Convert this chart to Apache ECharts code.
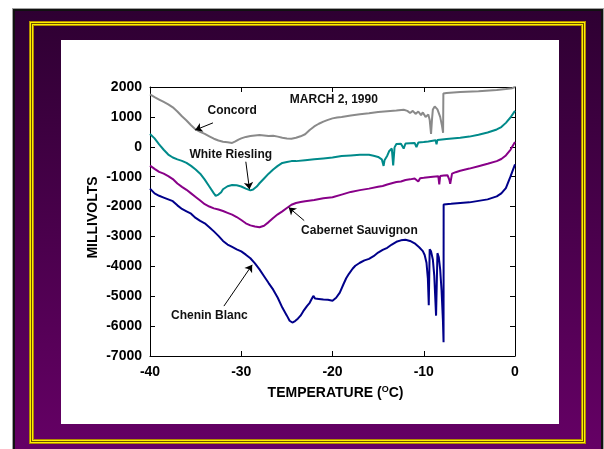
<!DOCTYPE html>
<html>
<head>
<meta charset="utf-8">
<script src="https://cdn.jsdelivr.net/npm/echarts@6/dist/echarts.min.js"></script>
<style>
  html, body { margin: 0; padding: 0; background: #ffffff; }
  #frame {
    position: absolute; left: 12px; top: 8px; width: 592px; height: 450px;
    box-sizing: border-box; border: 1px solid #a0a0a0;
    background: linear-gradient(to bottom, #2e0032 0%, #660066 100%);
    box-shadow: inset 0 0 0 2px #111111;
  }
  #gold {
    position: absolute; left: 29px; top: 21px; width: 557px; height: 423px;
    box-sizing: border-box; border: 1px solid #b08c00;
    box-shadow: inset 0 0 0 1px #ffee00, inset 0 0 0 2px #6a4e00,
                inset 0 0 0 3px #ffee00, inset 0 0 0 4px #b08c00;
  }
  #panel {
    position: absolute; left: 61px; top: 40px; width: 498px; height: 384px;
    background: #ffffff;
  }
  #chart { position: absolute; left: 0; top: 0; width: 604px; height: 449px; }
</style>
</head>
<body>
<div id="frame"></div>
<div id="gold"></div>
<div id="panel"></div>
<div id="chart"></div>
<script>
// Thermal scan of grape bud tissue, recorded March 2, 1990.
// Each series: [temperature (°C), signal (millivolts)]

const concordData = [
  [-40, 1750], [-39.5, 1660], [-39, 1580], [-38.5, 1500], [-38, 1420], [-37.5, 1320],
  [-37, 1180], [-36.5, 1020], [-36, 880], [-35.5, 720], [-35, 580], [-34.5, 500],
  [-34, 430], [-33.5, 350], [-33, 270], [-32.5, 210], [-32, 170], [-31.5, 150],
  [-31, 130], [-30.7, 170], [-30.3, 240], [-30, 280], [-29.5, 330], [-29, 360],
  [-28.5, 380], [-28, 390], [-27.5, 380], [-27, 360], [-26.5, 370], [-26, 340],
  [-25.5, 300], [-25, 280], [-24.5, 270], [-24, 300], [-23.5, 350], [-23, 420],
  [-22.5, 560], [-22, 680], [-21.5, 770], [-21, 840], [-20.5, 900], [-20, 950],
  [-19.5, 980], [-19, 1000], [-18, 1050], [-17, 1090], [-16, 1120], [-15, 1160],
  [-14, 1190], [-13, 1210], [-12.2, 1240], [-11.8, 1200], [-11.5, 1130], [-11.2, 1200],
  [-10.9, 1100], [-10.6, 1180], [-10.3, 1060], [-10.1, 1150], [-9.8, 1000], [-9.5, 1080],
  [-9.35, 900], [-9.2, 430], [-9.1, 900], [-9.0, 1250], [-8.8, 1350], [-8.5, 1250],
  [-8.2, 1000], [-8.0, 700], [-7.88, 470], [-7.85, 1780], [-7.5, 1800], [-6, 1830],
  [-4, 1860], [-2, 1900], [-1, 1930], [-0.3, 1960], [0, 2000]
];

const rieslingData = [
  [-40, 430], [-39.5, 280], [-39, 80], [-38.5, -100], [-38, -260], [-37.5, -360],
  [-37, -420], [-36.5, -470], [-36, -540], [-35.5, -640], [-35, -760], [-34.5, -900],
  [-34, -1100], [-33.5, -1330], [-33, -1560], [-32.8, -1640], [-32.5, -1600], [-32.2, -1520],
  [-32, -1420], [-31.5, -1320], [-31, -1280], [-30.5, -1290], [-30, -1330], [-29.5, -1400],
  [-29, -1460], [-28.7, -1430], [-28.3, -1330], [-28, -1220], [-27.5, -1060], [-27, -900],
  [-26.5, -760], [-26, -640], [-25.5, -540], [-25, -510], [-24.5, -480], [-24, -480],
  [-23, -450], [-22, -420], [-21, -390], [-20, -360], [-19, -310], [-18, -290],
  [-17, -270], [-16, -270], [-15.5, -300], [-15, -340], [-14.6, -420], [-14.4, -640],
  [-14.3, -450], [-14.0, -300], [-13.8, -150], [-13.5, -60], [-13.35, -620], [-13.2, -20],
  [-13.0, 90], [-12.5, 100], [-12.2, -60], [-12.0, 110], [-11.5, 120], [-11.0, 130],
  [-10.8, -10], [-10.6, 140], [-10, 160], [-9.5, 180], [-8.7, 220], [-8.6, 80],
  [-8.5, 230], [-7.5, 260], [-6, 300], [-5, 340], [-4, 400], [-3, 480],
  [-2, 580], [-1.5, 660], [-1, 800], [-0.5, 980], [0, 1200]
];

const cabernetData = [
  [-40, -630], [-39.5, -740], [-39, -840], [-38.5, -900], [-38, -980], [-37.5, -1080],
  [-37, -1230], [-36.5, -1340], [-36, -1440], [-35.5, -1560], [-35, -1680], [-34.5, -1800],
  [-34, -1920], [-33.5, -2000], [-33, -2060], [-32.5, -2100], [-32, -2150], [-31.5, -2210],
  [-31, -2270], [-30.5, -2350], [-30, -2450], [-29.5, -2560], [-29, -2630], [-28.5, -2670],
  [-28, -2690], [-27.5, -2640], [-27, -2520], [-26.5, -2380], [-26, -2260], [-25.5, -2160],
  [-25, -2050], [-24.5, -1940], [-24, -1880], [-23.5, -1850], [-23, -1820], [-22, -1780],
  [-21, -1720], [-20, -1690], [-19, -1600], [-18, -1510], [-17, -1450], [-16, -1400],
  [-15, -1340], [-14.5, -1310], [-14, -1260], [-13, -1180], [-12.5, -1160], [-12, -1110],
  [-11.5, -1090], [-11, -1060], [-10.6, -1160], [-10.4, -1050], [-10, -1040], [-9.5, -1020],
  [-9, -1000], [-8.4, -990], [-8.3, -1260], [-8.2, -980], [-7.8, -960], [-7.4, -950],
  [-7.2, -1100], [-7.1, -1240], [-6.9, -900], [-6.5, -850], [-6, -800], [-5, -730],
  [-4, -650], [-3, -570], [-2, -480], [-1.5, -410], [-1, -290], [-0.5, -100], [0, 160]
];

const cheninData = [
  [-40, -1400], [-39.5, -1560], [-39, -1640], [-38.5, -1700], [-38, -1760], [-37.5, -1820],
  [-37, -1960], [-36.5, -2080], [-36, -2160], [-35.5, -2240], [-35, -2380], [-34.5, -2480],
  [-34, -2560], [-33.5, -2690], [-33, -2830], [-32.5, -2980], [-32, -3150], [-31.5, -3270],
  [-31, -3350], [-30.5, -3430], [-30, -3500], [-29.5, -3610], [-29, -3730], [-28.5, -3900],
  [-28, -4100], [-27.5, -4330], [-27, -4560], [-26.5, -4780], [-26, -5050], [-25.5, -5380],
  [-25, -5650], [-24.7, -5820], [-24.4, -5880], [-24.1, -5830], [-23.8, -5750], [-23.5, -5650],
  [-23.2, -5500], [-22.8, -5330], [-22.5, -5220], [-22.3, -5100], [-22.1, -4990], [-21.9, -5080],
  [-21.5, -5090], [-21, -5110], [-20.5, -5120], [-20, -5150], [-19.6, -5050], [-19.2, -4880],
  [-18.8, -4600], [-18.5, -4400], [-18.2, -4250], [-17.8, -4080], [-17.5, -3980], [-17, -3880],
  [-16.5, -3800], [-16, -3750], [-15.5, -3660], [-15, -3540], [-14.5, -3450], [-14, -3380],
  [-13.5, -3270], [-13, -3180], [-12.5, -3130], [-12, -3110], [-11.5, -3150], [-11, -3230],
  [-10.5, -3360], [-10.1, -3490], [-9.9, -3620], [-9.7, -3880], [-9.55, -4400], [-9.45, -5300],
  [-9.35, -3430], [-9.2, -3500], [-9.0, -3780], [-8.85, -4300], [-8.65, -5650], [-8.5, -3560],
  [-8.35, -3700], [-8.2, -4100], [-8.05, -4800], [-7.9, -5800], [-7.83, -6540], [-7.82, -1930],
  [-7, -1910], [-6, -1880], [-5, -1860], [-4, -1810], [-3, -1760], [-2, -1660],
  [-1.5, -1560], [-1, -1380], [-0.5, -1000], [0, -590]
];

// Axis ranges and tick spacing
const xTicks = { min: -40, max: 0, step: 10 };
const yTicks = { min: -7000, max: 2000, step: 1000 };

// Callouts: label, label position, arrow tail, arrow head (data units)
const callouts = [
  { text: 'Concord',            at: [-31.0, 1200],  tail: [-33.1, 800],   head: [-35.05, 560] },
  { text: 'White Riesling',     at: [-31.15, -280], tail: [-29.5, -500],  head: [-29.1, -1420] },
  { text: 'Cabernet Sauvignon', at: [-17.05, -2810], tail: [-23.1, -2470], head: [-24.8, -2030] },
  { text: 'Chenin Blanc',       at: [-33.5, -5650], tail: [-31.9, -5330], head: [-28.8, -3950] }
];
const dateNote = { text: 'MARCH 2, 1990', at: [-19.85, 1590] };

const FONT = '"Liberation Sans", Arial, Helvetica, sans-serif';

const chart = echarts.init(document.getElementById('chart'), null, { renderer: 'canvas' });

const axisLineStyle = { show: true, onZero: false, lineStyle: { color: '#000', width: 1 } };
const tickStyle = { show: true, inside: true, length: 5, lineStyle: { color: '#000', width: 1 } };
const labelStyle = {
  color: '#000', fontFamily: FONT, fontWeight: 'bold', fontSize: 14,
  formatter: v => String(v)
};

function lineSeries(name, data, color) {
  return {
    name, type: 'line', data,
    xAxisIndex: 0, yAxisIndex: 0,
    showSymbol: false, symbol: 'none',
    lineStyle: { color, width: 2 },
    silent: true, z: 3
  };
}

const arrowSeries = {
  type: 'line', data: [], xAxisIndex: 0, yAxisIndex: 0, silent: true, z: 4,
  markLine: {
    silent: true, animation: false,
    symbol: ['none', 'arrow'], symbolSize: 7,
    label: { show: false },
    lineStyle: { color: '#000', width: 1, type: 'solid' },
    itemStyle: { color: '#000' },
    data: callouts.map(c => [{ coord: c.tail }, { coord: c.head }])
  }
};

chart.setOption({
  animation: false,
  backgroundColor: 'transparent',
  grid: { left: 150, top: 87, width: 365, height: 269, containLabel: false },
  xAxis: [
    {
      type: 'value', position: 'bottom', min: xTicks.min, max: xTicks.max, interval: xTicks.step,
      axisLine: axisLineStyle, axisTick: tickStyle, splitLine: { show: false },
      axisLabel: Object.assign({ margin: 9 }, labelStyle)
    },
    {
      type: 'value', position: 'top', min: xTicks.min, max: xTicks.max, interval: xTicks.step,
      axisLine: axisLineStyle, axisTick: tickStyle, splitLine: { show: false },
      axisLabel: { show: false }
    }
  ],
  yAxis: [
    {
      type: 'value', position: 'left', min: yTicks.min, max: yTicks.max, interval: yTicks.step,
      axisLine: axisLineStyle, axisTick: tickStyle, splitLine: { show: false },
      axisLabel: Object.assign({ margin: 8 }, labelStyle)
    },
    {
      type: 'value', position: 'right', min: yTicks.min, max: yTicks.max, interval: yTicks.step,
      axisLine: axisLineStyle, axisTick: tickStyle, splitLine: { show: false },
      axisLabel: { show: false }
    }
  ],
  series: [
    lineSeries('Concord', concordData, '#8a8a8a'),
    lineSeries('White Riesling', rieslingData, '#008a8a'),
    lineSeries('Cabernet Sauvignon', cabernetData, '#880088'),
    lineSeries('Chenin Blanc', cheninData, '#00008a'),
    arrowSeries
  ]
});

// Text placed from data coordinates once the scales exist
function textAt(txt, coord) {
  const p = chart.convertToPixel({ xAxisIndex: 0, yAxisIndex: 0 }, coord);
  return {
    type: 'text', x: p[0], y: p[1], silent: true, z: 10,
    style: {
      text: txt, fill: '#111', font: 'bold 12px ' + FONT,
      align: 'center', verticalAlign: 'middle'
    }
  };
}

const graphics = callouts.map(c => textAt(c.text, c.at));
graphics.push(textAt(dateNote.text, dateNote.at));

// Axis titles
const gridRect = chart.getModel().getComponent('grid').coordinateSystem.getRect();
graphics.push({
  type: 'text', silent: true, z: 10,
  x: gridRect.x + gridRect.width / 2 + 3, y: gridRect.y + gridRect.height + 37,
  style: {
    text: '{a|TEMPERATURE (}{s|O}{a|C)}',
    align: 'center', verticalAlign: 'middle',
    rich: {
      a: { fontFamily: FONT, fontWeight: 'bold', fontSize: 14, fill: '#000', color: '#000' },
      s: { fontFamily: FONT, fontWeight: 'bold', fontSize: 9, fill: '#000', color: '#000', verticalAlign: 'top', padding: [0, 0, 6, 0] }
    }
  }
});
graphics.push({
  type: 'text', silent: true, z: 10,
  x: 93, y: gridRect.y + gridRect.height / 2 - 4, rotation: Math.PI / 2,
  style: {
    text: 'MILLIVOLTS', fill: '#000', font: 'bold 14px ' + FONT,
    align: 'center', verticalAlign: 'middle'
  }
});

chart.setOption({ graphic: graphics });
</script>
</body>
</html>
